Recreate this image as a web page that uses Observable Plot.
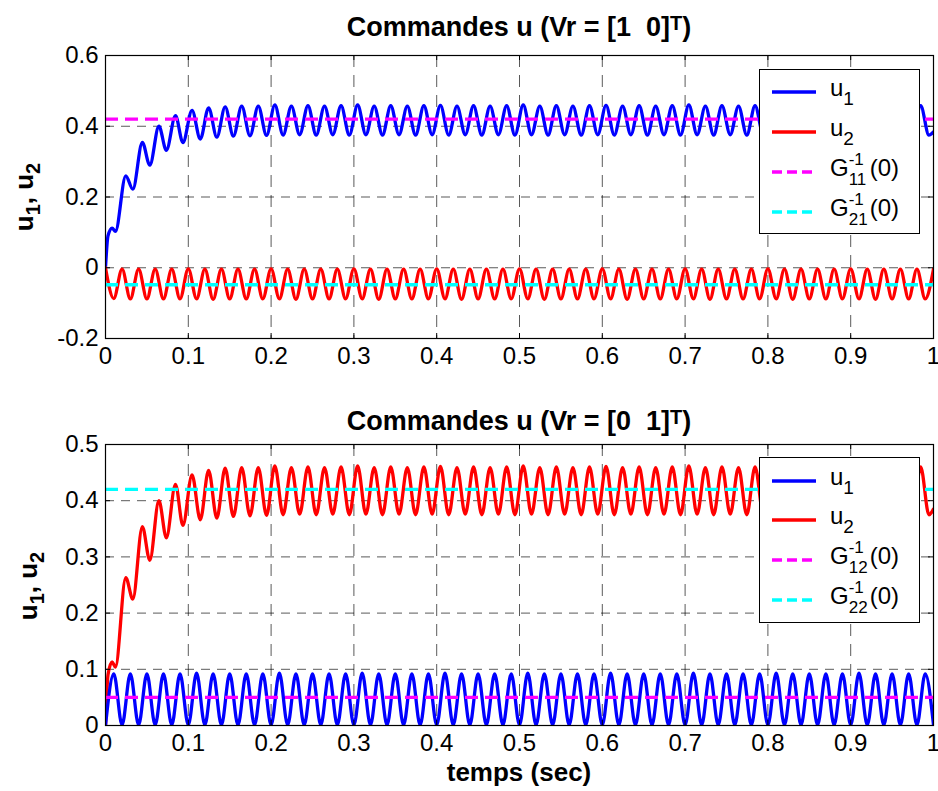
<!DOCTYPE html>
<html>
<head>
<meta charset="utf-8">
<script src="https://cdn.jsdelivr.net/npm/d3@7"></script>
<script src="https://cdn.jsdelivr.net/npm/@observablehq/plot@0.6"></script>
<style>
  html, body { margin: 0; padding: 0; background: #fff; }
  #fig { position: relative; width: 938px; height: 791px; overflow: hidden; font-family: "Liberation Sans", Arial, sans-serif; color: #000; }
  #fig svg.plot { position: absolute; left: 0; }
  .title { position: absolute; left: 105px; width: 828px; text-align: center; font-weight: bold; font-size: 27px; line-height: 30px; white-space: nowrap; }
  .title sup { font-size: 20px; position: relative; top: -6px; vertical-align: baseline; }
  .ylab { position: absolute; font-weight: bold; font-size: 26px; line-height: 28px; white-space: nowrap; transform: translate(-50%, -50%) rotate(-90deg); }
  .ylab .s { font-size: 20px; position: relative; top: 7px; }
  .xlab { position: absolute; left: 105px; width: 828px; text-align: center; font-weight: bold; font-size: 26px; line-height: 28px; }
  .legend { position: absolute; background: #fff; border: 1.5px solid #000; box-sizing: border-box; }
  .legend .row { position: absolute; left: 0; height: 24px; width: 100%; }
  .legend .lab { position: absolute; left: 70px; top: -4px; font-size: 24px; line-height: 24px; white-space: nowrap; }
  .lab .s { font-size: 19px; position: relative; top: 9px; }
  .ss { display: inline-block; position: relative; width: 21px; height: 20px; }
  .ss .sp { position: absolute; left: 0; top: -5px; font-size: 17px; line-height: 17px; }
  .ss .sb { position: absolute; left: 0; top: 15px; font-size: 17px; line-height: 17px; }
</style>
</head>
<body>
<div id="fig"></div>
<script>
// ---------- tick labels / categories ----------
const xTicks = [0, 0.1, 0.2, 0.3, 0.4, 0.5, 0.6, 0.7, 0.8, 0.9, 1];
const yTicksTop = [-0.2, 0, 0.2, 0.4, 0.6];
const yTicksBot = [0, 0.1, 0.2, 0.3, 0.4, 0.5];

// ---------- time stamps of the read extrema (s) ----------
// series A: top u1 and bottom u2 (transient + ripple)
const tA = [0, 0.003, 0.008, 0.012, 0.0245, 0.033, 0.0445, 0.0535, 0.0645, 0.0735, 0.0845, 0.0935,
  0.1045, 0.1145, 0.1245, 0.1345, 0.1445, 0.1545, 0.1645, 0.1745, 0.1845, 0.1945,
  0.2045, 0.2145, 0.2245, 0.2345, 0.2445, 0.2545, 0.2645, 0.2745, 0.2845, 0.2945,
  0.3045, 0.3145, 0.3245, 0.3345, 0.3445, 0.3545, 0.3645, 0.3745, 0.3845, 0.3945,
  0.4045, 0.4145, 0.4245, 0.4345, 0.4445, 0.4545, 0.4645, 0.4745, 0.4845, 0.4945,
  0.5045, 0.5145, 0.5245, 0.5345, 0.5445, 0.5545, 0.5645, 0.5745, 0.5845, 0.5945,
  0.6045, 0.6145, 0.6245, 0.6345, 0.6445, 0.6545, 0.6645, 0.6745, 0.6845, 0.6945,
  0.7045, 0.7145, 0.7245, 0.7345, 0.7445, 0.7545, 0.7645, 0.7745, 0.7845, 0.7945,
  0.8045, 0.8145, 0.8245, 0.8345, 0.8445, 0.8545, 0.8645, 0.8745, 0.8845, 0.8945,
  0.9045, 0.9145, 0.9245, 0.9345, 0.9445, 0.9545, 0.9645, 0.9745, 0.9845, 0.9945, 1];
// series B: top u2 and bottom u1 (pure ripple)
const tB = [0, 0.01, 0.02, 0.03, 0.04, 0.05, 0.06, 0.07, 0.08, 0.09,
  0.1, 0.11, 0.12, 0.13, 0.14, 0.15, 0.16, 0.17, 0.18, 0.19,
  0.2, 0.21, 0.22, 0.23, 0.24, 0.25, 0.26, 0.27, 0.28, 0.29,
  0.3, 0.31, 0.32, 0.33, 0.34, 0.35, 0.36, 0.37, 0.38, 0.39,
  0.4, 0.41, 0.42, 0.43, 0.44, 0.45, 0.46, 0.47, 0.48, 0.49,
  0.5, 0.51, 0.52, 0.53, 0.54, 0.55, 0.56, 0.57, 0.58, 0.59,
  0.6, 0.61, 0.62, 0.63, 0.64, 0.65, 0.66, 0.67, 0.68, 0.69,
  0.7, 0.71, 0.72, 0.73, 0.74, 0.75, 0.76, 0.77, 0.78, 0.79,
  0.8, 0.81, 0.82, 0.83, 0.84, 0.85, 0.86, 0.87, 0.88, 0.89,
  0.9, 0.91, 0.92, 0.93, 0.94, 0.95, 0.96, 0.97, 0.98, 0.99, 1];

// ---------- top panel: Vr = [1 0]^T ----------
const topU1 = [0, 0.09, 0.112, 0.103, 0.26, 0.222, 0.354, 0.29, 0.40, 0.332, 0.43, 0.354,
  0.445, 0.364, 0.452, 0.369, 0.455, 0.372, 0.457, 0.373, 0.457, 0.374,
  0.460, 0.375, 0.457, 0.376, 0.458, 0.375, 0.457, 0.376, 0.458, 0.375,
  0.460, 0.376, 0.457, 0.375, 0.458, 0.376, 0.457, 0.375, 0.458, 0.376,
  0.459, 0.375, 0.457, 0.376, 0.458, 0.375, 0.457, 0.376, 0.458, 0.375,
  0.460, 0.376, 0.457, 0.375, 0.458, 0.376, 0.457, 0.375, 0.458, 0.376,
  0.459, 0.375, 0.457, 0.376, 0.458, 0.375, 0.457, 0.376, 0.458, 0.375,
  0.460, 0.376, 0.457, 0.375, 0.458, 0.376, 0.457, 0.375, 0.458, 0.376,
  0.459, 0.375, 0.457, 0.376, 0.458, 0.375, 0.457, 0.376, 0.458, 0.375,
  0.460, 0.376, 0.457, 0.375, 0.458, 0.376, 0.457, 0.375, 0.458, 0.375, 0.384];
const topU2 = [0, -0.087, -0.004, -0.088, -0.004, -0.088, -0.004, -0.088, -0.004, -0.088,
  -0.003, -0.088, -0.004, -0.089, -0.004, -0.088, -0.004, -0.088, -0.004, -0.088,
  -0.003, -0.088, -0.004, -0.089, -0.004, -0.088, -0.004, -0.088, -0.004, -0.088,
  -0.003, -0.088, -0.004, -0.089, -0.004, -0.088, -0.004, -0.088, -0.004, -0.088,
  -0.003, -0.088, -0.004, -0.089, -0.004, -0.088, -0.004, -0.088, -0.004, -0.088,
  -0.003, -0.088, -0.004, -0.089, -0.004, -0.088, -0.004, -0.088, -0.004, -0.088,
  -0.003, -0.088, -0.004, -0.089, -0.004, -0.088, -0.004, -0.088, -0.004, -0.088,
  -0.003, -0.088, -0.004, -0.089, -0.004, -0.088, -0.004, -0.088, -0.004, -0.088,
  -0.003, -0.088, -0.004, -0.089, -0.004, -0.088, -0.004, -0.088, -0.004, -0.088,
  -0.003, -0.088, -0.004, -0.089, -0.004, -0.088, -0.004, -0.088, -0.004, -0.088, -0.004];
const topG11 = 0.42;
const topG21 = -0.048;

// ---------- bottom panel: Vr = [0 1]^T ----------
const botU2 = [0, 0.09, 0.113, 0.104, 0.263, 0.225, 0.354, 0.294, 0.40, 0.334, 0.429, 0.356,
  0.446, 0.366, 0.454, 0.369, 0.458, 0.372, 0.459, 0.373, 0.459, 0.374,
  0.462, 0.375, 0.459, 0.376, 0.460, 0.375, 0.459, 0.376, 0.460, 0.375,
  0.462, 0.376, 0.459, 0.375, 0.460, 0.376, 0.459, 0.375, 0.460, 0.376,
  0.461, 0.375, 0.459, 0.376, 0.460, 0.375, 0.459, 0.376, 0.460, 0.375,
  0.462, 0.376, 0.459, 0.375, 0.460, 0.376, 0.459, 0.375, 0.460, 0.376,
  0.461, 0.375, 0.459, 0.376, 0.460, 0.375, 0.459, 0.376, 0.460, 0.375,
  0.462, 0.376, 0.459, 0.375, 0.460, 0.376, 0.459, 0.375, 0.460, 0.376,
  0.461, 0.375, 0.459, 0.376, 0.460, 0.375, 0.459, 0.376, 0.460, 0.375,
  0.462, 0.376, 0.459, 0.375, 0.460, 0.376, 0.459, 0.375, 0.460, 0.375, 0.385];
const botU1 = [0, 0.092, 0.001, 0.092, 0.001, 0.092, 0.001, 0.092, 0.001, 0.092,
  0.001, 0.093, 0.001, 0.092, 0.001, 0.092, 0.001, 0.092, 0.001, 0.092,
  0.001, 0.093, 0.001, 0.092, 0.001, 0.092, 0.001, 0.092, 0.001, 0.092,
  0.001, 0.093, 0.001, 0.092, 0.001, 0.092, 0.001, 0.092, 0.001, 0.092,
  0.001, 0.093, 0.001, 0.092, 0.001, 0.092, 0.001, 0.092, 0.001, 0.092,
  0.001, 0.093, 0.001, 0.092, 0.001, 0.092, 0.001, 0.092, 0.001, 0.092,
  0.001, 0.093, 0.001, 0.092, 0.001, 0.092, 0.001, 0.092, 0.001, 0.092,
  0.001, 0.093, 0.001, 0.092, 0.001, 0.092, 0.001, 0.092, 0.001, 0.092,
  0.001, 0.093, 0.001, 0.092, 0.001, 0.092, 0.001, 0.092, 0.001, 0.092,
  0.001, 0.093, 0.001, 0.092, 0.001, 0.092, 0.001, 0.092, 0.001, 0.092, 0.001];
const botG12 = 0.05;
const botG22 = 0.42;

// ---------- colours ----------
const cBlue = "#0000ff", cRed = "#ff0000", cMag = "#ff00ff", cCyan = "#00ffff";

const W = 938, ML = 105, MR = 5;
const fw = W - ML - MR;

function panel({top, height, mt, mb, yDomain, yTicks, lines, refs}) {
  const fh = height - mt - mb;
  const marks = [
    Plot.ruleY(yTicks, {stroke: "#000", strokeOpacity: 0.65, strokeDasharray: "9,7", strokeWidth: 1}),
    Plot.ruleX(xTicks, {stroke: "#000", strokeOpacity: 0.65, strokeDasharray: "12,8", strokeWidth: 1}),
    ...lines.map(l => Plot.line(l.t.map((t, i) => ({t, v: l.v[i]})),
      {x: "t", y: "v", stroke: l.color, strokeWidth: 3.3, curve: "monotone-x", clip: true})),
    ...refs.map(r => Plot.ruleY([r.v], {stroke: r.color, strokeWidth: 3.3, strokeDasharray: "13,7"})),
    Plot.tickX(xTicks, {x: d => d, stroke: "#000", insetTop: fh - 5}),
    Plot.tickX(xTicks, {x: d => d, stroke: "#000", insetBottom: fh - 5}),
    Plot.tickY(yTicks, {y: d => d, stroke: "#000", insetRight: fw - 5}),
    Plot.tickY(yTicks, {y: d => d, stroke: "#000", insetLeft: fw - 5}),
    Plot.frame({stroke: "#000", strokeWidth: 1.2})
  ];
  const svg = Plot.plot({
    width: W, height,
    marginLeft: ML, marginRight: MR, marginTop: mt, marginBottom: mb,
    style: {fontFamily: '"Liberation Sans", Arial, sans-serif', fontSize: "24px", color: "#000", background: "transparent", overflow: "visible"},
    x: {domain: [0, 1], ticks: xTicks, tickFormat: d => String(d), tickSize: 0, tickPadding: 8, label: null},
    y: {domain: yDomain, ticks: yTicks, tickFormat: d => String(d), tickSize: 0, tickPadding: 7, label: null},
    marks
  });
  svg.classList.add("plot");
  svg.style.top = top + "px";
  return svg;
}

const fig = document.getElementById("fig");

fig.appendChild(panel({
  top: 0, height: 390, mt: 55, mb: 52,
  yDomain: [-0.2, 0.6], yTicks: yTicksTop,
  lines: [{t: tA, v: topU1, color: cBlue}, {t: tB, v: topU2, color: cRed}],
  refs: [{v: topG11, color: cMag}, {v: topG21, color: cCyan}]
}));
fig.appendChild(panel({
  top: 390, height: 401, mt: 54, mb: 66,
  yDomain: [0, 0.5], yTicks: yTicksBot,
  lines: [{t: tA, v: botU2, color: cRed}, {t: tB, v: botU1, color: cBlue}],
  refs: [{v: botG12, color: cMag}, {v: botG22, color: cCyan}]
}));

function addHTML(html) {
  const d = document.createElement("div");
  d.innerHTML = html;
  while (d.firstChild) fig.appendChild(d.firstChild);
}

addHTML(`<div class="title" style="top:12px">Commandes u (Vr = [1&nbsp;&nbsp;0]<sup>T</sup>)</div>`);
addHTML(`<div class="title" style="top:406px">Commandes u (Vr = [0&nbsp;&nbsp;1]<sup>T</sup>)</div>`);
addHTML(`<div class="ylab" style="left:25px; top:197px">u<span class="s">1</span>, u<span class="s">2</span></div>`);
addHTML(`<div class="ylab" style="left:29px; top:586px">u<span class="s">1</span>, u<span class="s">2</span></div>`);
addHTML(`<div class="xlab" style="top:758px">temps (sec)</div>`);

function legend(left, top, height, rowsTop, entries) {
  let h = `<div class="legend" style="left:${left}px; top:${top}px; width:161px; height:${height}px">`;
  entries.forEach((e, i) => {
    const c = rowsTop[i];
    h += `<div class="row" style="top:${c - 12}px">
      <svg width="46" height="8" style="position:absolute; left:12px; top:8px">
        <line x1="0" x2="44" y1="4" y2="4" stroke="${e.color}" stroke-width="3.3" ${e.dash ? 'stroke-dasharray="10,5"' : ''}/>
      </svg>
      <span class="lab">${e.html}</span></div>`;
  });
  h += `</div>`;
  addHTML(h);
}
const gLab = (ij) => `G<span class="ss"><span class="sp">-1</span><span class="sb">${ij}</span></span>(0)`;
legend(759, 69, 165, [22, 62, 102, 142], [
  {html: `u<span class="s">1</span>`, color: cBlue},
  {html: `u<span class="s">2</span>`, color: cRed},
  {html: gLab("11"), color: cMag, dash: true},
  {html: gLab("21"), color: cCyan, dash: true}
]);
legend(759, 457, 166, [23, 62, 102, 142], [
  {html: `u<span class="s">1</span>`, color: cBlue},
  {html: `u<span class="s">2</span>`, color: cRed},
  {html: gLab("12"), color: cMag, dash: true},
  {html: gLab("22"), color: cCyan, dash: true}
]);
</script>
</body>
</html>
